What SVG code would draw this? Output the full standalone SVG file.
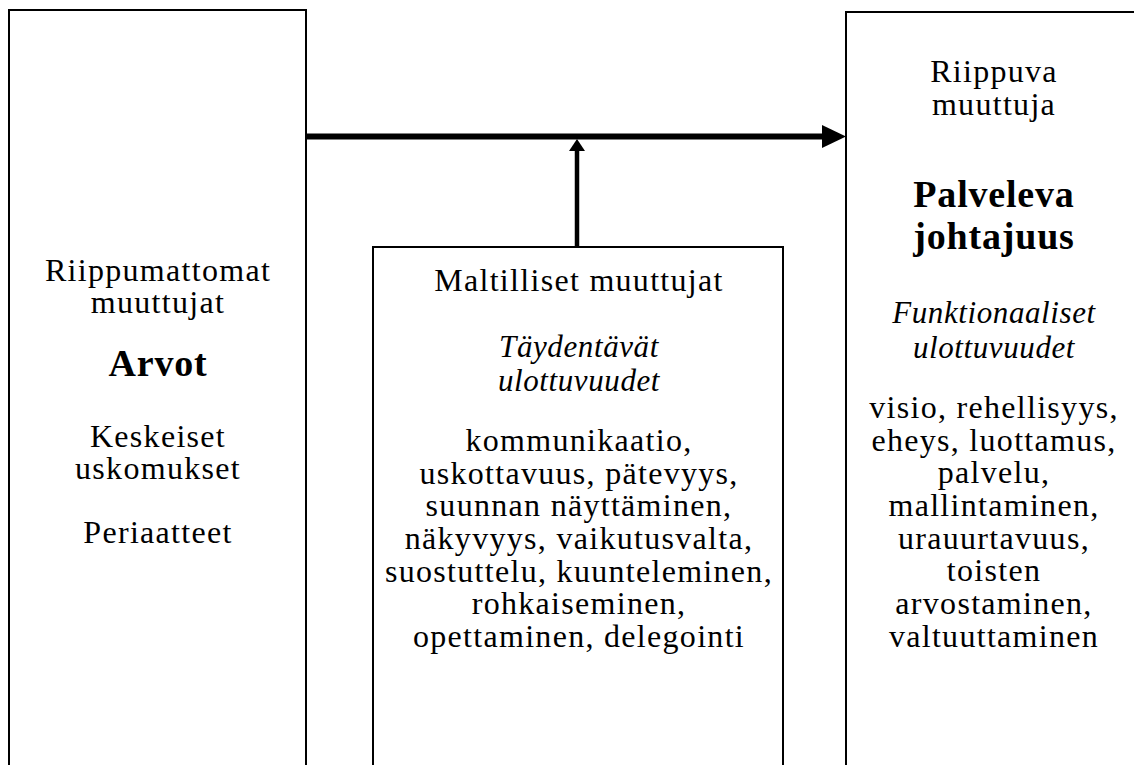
<svg xmlns="http://www.w3.org/2000/svg" width="1134" height="765" viewBox="0 0 1134 765">
<style>
  .box { fill: #ffffff; stroke: #000000; stroke-width: 2; }
  .t { font-family: "Liberation Serif", "Times New Roman", serif; font-size: 32px; letter-spacing: 1.3px; fill: #000; text-anchor: middle; }
  .b { font-family: "Liberation Serif", "Times New Roman", serif; font-size: 38px; letter-spacing: 0.8px; font-weight: bold; fill: #000; text-anchor: middle; }
  .i { font-family: "Liberation Serif", "Times New Roman", serif; font-size: 31px; letter-spacing: 0.6px; font-style: italic; fill: #000; text-anchor: middle; }
  .conn { stroke: #000; fill: none; }
</style>
<defs>
  <marker id="headBig" markerUnits="userSpaceOnUse" markerWidth="24" markerHeight="23" refX="2" refY="11.5" orient="auto">
    <path d="M0,0 L24,11.5 L0,23 z" fill="#000"/>
  </marker>
  <marker id="headSmall" markerUnits="userSpaceOnUse" markerWidth="12" markerHeight="16" refX="1" refY="8" orient="auto">
    <path d="M0,0 L12,8 L0,16 z" fill="#000"/>
  </marker>
</defs>
<rect width="1134" height="765" fill="#ffffff"/>

<g id="node-independent">
  <rect class="box" x="9" y="10" width="297" height="780"/>
  <text class="t" x="158" y="281">Riippumattomat</text>
  <text class="t" x="158" y="313">muuttujat</text>
  <text class="b" x="158" y="376">Arvot</text>
  <text class="t" x="158" y="447">Keskeiset</text>
  <text class="t" x="158" y="479">uskomukset</text>
  <text class="t" x="158" y="543">Periaatteet</text>
</g>

<g id="node-moderating">
  <rect class="box" x="373" y="247" width="410" height="560"/>
  <text class="t" x="579" y="291">Maltilliset muuttujat</text>
  <text class="i" x="579" y="357">Täydentävät</text>
  <text class="i" x="579" y="391">ulottuvuudet</text>
  <text class="t" x="579" y="451">kommunikaatio,</text>
  <text class="t" x="579" y="484">uskottavuus, pätevyys,</text>
  <text class="t" x="579" y="516">suunnan näyttäminen,</text>
  <text class="t" x="579" y="549">näkyvyys, vaikutusvalta,</text>
  <text class="t" x="579" y="582">suostuttelu, kuunteleminen,</text>
  <text class="t" x="579" y="614">rohkaiseminen,</text>
  <text class="t" x="579" y="647">opettaminen, delegointi</text>
</g>

<g id="node-dependent">
  <rect class="box" x="846" y="12" width="400" height="780"/>
  <text class="t" x="994" y="82">Riippuva</text>
  <text class="t" x="994" y="115">muuttuja</text>
  <text class="b" x="994" y="207">Palveleva</text>
  <text class="b" x="994" y="249">johtajuus</text>
  <text class="i" x="994" y="323">Funktionaaliset</text>
  <text class="i" x="994" y="358">ulottuvuudet</text>
  <text class="t" x="994" y="418">visio, rehellisyys,</text>
  <text class="t" x="994" y="451">eheys, luottamus,</text>
  <text class="t" x="994" y="483">palvelu,</text>
  <text class="t" x="994" y="516">mallintaminen,</text>
  <text class="t" x="994" y="549">urauurtavuus,</text>
  <text class="t" x="994" y="581">toisten</text>
  <text class="t" x="994" y="614">arvostaminen,</text>
  <text class="t" x="994" y="647">valtuuttaminen</text>
</g>

<g id="connectors">
  <line class="conn" x1="307" y1="136.5" x2="824" y2="136.5" stroke-width="6" marker-end="url(#headBig)"/>
  <line class="conn" x1="577" y1="246" x2="577" y2="150" stroke-width="4.5" marker-end="url(#headSmall)"/>
</g>
</svg>
